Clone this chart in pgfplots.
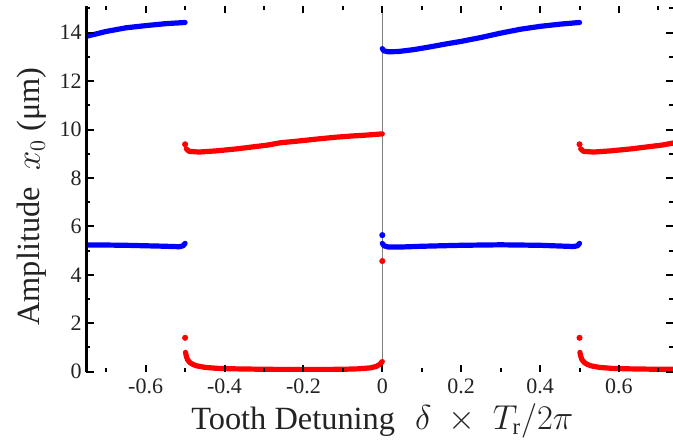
\documentclass[border=0pt]{standalone}
\usepackage{fontspec}
\setmainfont{Liberation Serif}
\usepackage{pgfplots}
\pgfplotsset{compat=1.18}
\definecolor{txt}{RGB}{35,35,35}
\definecolor{mblue}{RGB}{0,0,255}
\definecolor{mred}{RGB}{255,0,0}
\begin{document}
\begin{tikzpicture}
\begin{axis}[
    scale only axis,
    width=293.25pt, height=182.85pt,
    xmin=-0.75, xmax=0.737,
    ymin=0, ymax=15.1,
    clip mode=individual,
    axis on top,
    xtick={-0.6,-0.4,-0.2,0,0.2,0.4,0.6},
    xticklabels={-0.6,-0.4,-0.2,0,0.2,0.4,0.6},
    minor xtick={-0.7,-0.5,-0.3,-0.1,0.1,0.3,0.5,0.7},
    ytick={0,2,4,6,8,10,12,14},
    yticklabels={0,2,4,6,8,10,12,14},
    minor ytick={1,3,5,7,9,11,13,15},
    tick align=inside,
    major tick length=3.5pt,
    minor tick length=2pt,
    every tick/.style={black, line width=1pt},
    x axis line style={line width=1.4pt},
    y axis line style={draw=none},
    tick label style={font=\rmfamily\fontsize{11}{12}\selectfont, text=txt},
    xticklabel style={inner sep=0pt, anchor=north, yshift=-3.6pt},
    yticklabel style={inner sep=0pt, anchor=east, xshift=-2.25pt},
    label style={font=\rmfamily\fontsize{16.2}{19}\selectfont, text=txt},
    xlabel={Tooth Detuning\hspace{10pt}$\delta\;\times\;T_{\mathrm{r}}/2\pi$},
    xlabel style={at={(axis cs:0,0)}, anchor=base, yshift=-29pt, inner sep=0pt},
    ylabel={Amplitude\ \ $x_0$ (μm)},
    ylabel style={at={(rel axis cs:-0.0929,0.479)}, anchor=center},
    curve/.style={line width=2.6pt, line cap=round, line join=round, no markers},
    iso/.style={only marks, mark=*, mark size=1.3pt},
]
% zero line
\addplot[gray, line width=0.6pt] coordinates {(0,0) (0,15.1)};

% blue, upper branch
\addplot[curve, mblue] coordinates {
    (-0.75,13.85) (-0.7,14.05) (-0.65,14.2) (-0.6,14.29) (-0.55,14.37) (-0.5,14.42)
};
\addplot[curve, mblue] coordinates {
    (0,13.34) (0.004,13.25) (0.015,13.21) (0.04,13.22) (0.08,13.3) (0.12,13.41)
    (0.16,13.53) (0.2,13.64) (0.25,13.8) (0.3,13.98) (0.35,14.14) (0.4,14.26)
    (0.45,14.35) (0.5,14.42)
};

% blue, middle branch
\addplot[curve, mblue] coordinates {
    (-0.75,5.23) (-0.7,5.23) (-0.65,5.22) (-0.6,5.2) (-0.55,5.18) (-0.515,5.16)
    (-0.505,5.2) (-0.5,5.3)
};
\addplot[curve, mblue] coordinates {
    (0,5.3) (0.004,5.2) (0.015,5.15) (0.05,5.15) (0.1,5.18) (0.2,5.22) (0.3,5.24)
    (0.4,5.22) (0.45,5.19) (0.485,5.17) (0.495,5.2) (0.5,5.3)
};
\addplot[iso, mblue] coordinates {(0,5.64)};

% red, upper branch
\addplot[curve, mred] coordinates {
    (-0.497,9.2) (-0.49,9.1) (-0.465,9.07) (-0.42,9.12) (-0.37,9.2) (-0.32,9.3)
    (-0.29,9.36) (-0.26,9.45) (-0.21,9.53) (-0.17,9.6) (-0.12,9.68) (-0.08,9.73)
    (-0.04,9.77) (0,9.82)
};
\addplot[curve, mred] coordinates {
    (0.503,9.2) (0.51,9.1) (0.535,9.07) (0.58,9.12) (0.63,9.2) (0.68,9.3)
    (0.71,9.36) (0.74,9.45)
};
\addplot[iso, mred] coordinates {(-0.5,9.39) (0.5,9.39) (0,4.57)};

% red, lower branch
\addplot[curve, mred] coordinates {
    (-0.499,0.8) (-0.497,0.65) (-0.494,0.5) (-0.488,0.38) (-0.48,0.3) (-0.47,0.24)
    (-0.45,0.18) (-0.42,0.14) (-0.38,0.12) (-0.3,0.1) (-0.2,0.09) (-0.1,0.1)
    (-0.06,0.12) (-0.03,0.16) (-0.015,0.22) (-0.007,0.3) (0,0.42)
};
\addplot[curve, mred] coordinates {
    (0.501,0.8) (0.503,0.65) (0.506,0.5) (0.512,0.38) (0.52,0.3) (0.53,0.24)
    (0.55,0.18) (0.58,0.14) (0.62,0.12) (0.7,0.1) (0.74,0.1)
};
\addplot[iso, mred] coordinates {(-0.5,1.4) (0.5,1.4)};

% left frame line
\draw[line width=1.4pt] (rel axis cs:0,0) -- (rel axis cs:0,1);
\end{axis}
\pgfresetboundingbox
\path[use as bounding box] (-43.25pt,-37.65pt) rectangle (293.25pt,185.85pt);
\end{tikzpicture}
\end{document}
